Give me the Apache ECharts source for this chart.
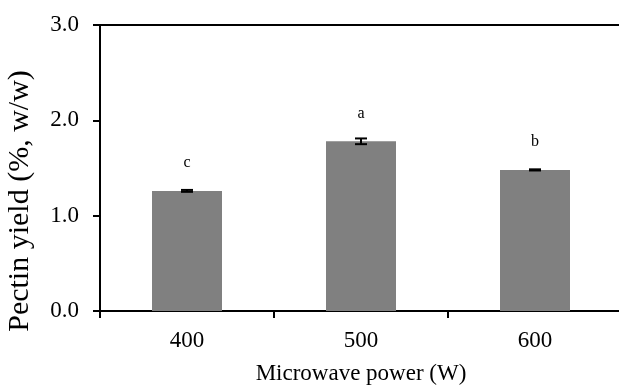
<!DOCTYPE html>
<html>
<head>
<meta charset="utf-8">
<script src="https://cdn.jsdelivr.net/npm/echarts@6/dist/echarts.min.js"></script>
<style>
  html, body { margin: 0; padding: 0; background: #fff; }
  #main { width: 619px; height: 385px; }
</style>
</head>
<body>
<div id="main"></div>
<script>
// data
const powers = ['400', '500', '600']
const yields = [1.26, 1.78, 1.48]
const errors = [0.01, 0.03, 0.006]
const letters = ['c', 'a', 'b']

const font = 'Liberation Serif, Times New Roman, serif'

const chart = echarts.init(document.getElementById('main'))

let option = {
  animation: false,
  grid: { left: 100, right: -3, top: 25, bottom: 74, outerBoundsMode: 'none', containLabel: false },
  xAxis: [
    {
      type: 'category',
      data: powers,
      name: 'Microwave power (W)',
      nameLocation: 'middle',
      nameGap: 51,
      nameTextStyle: { fontFamily: font, fontSize: 23, color: '#000' },
      axisLine: { lineStyle: { color: '#000', width: 2 } },
      axisTick: { show: true, length: 7, inside: false, lineStyle: { color: '#000', width: 2 } },
      axisLabel: { fontFamily: font, fontSize: 23, color: '#000', margin: 18 }
    },
    {
      type: 'category',
      data: powers,
      position: 'top',
      axisLine: { lineStyle: { color: '#000', width: 2 } },
      axisTick: { show: false },
      axisLabel: { show: false }
    }
  ],
  yAxis: {
    type: 'value',
    min: 0,
    max: 3,
    interval: 1,
    name: 'Pectin yield (%, w/w)',
    nameLocation: 'middle',
    nameGap: 65,
    nameTextStyle: { fontFamily: font, fontSize: 30, color: '#000', padding: [0, 66, 0, 0] },
    axisLine: { show: true, lineStyle: { color: '#000', width: 2 } },
    axisTick: { show: true, length: 7, lineStyle: { color: '#000', width: 2 } },
    axisLabel: {
      fontFamily: font, fontSize: 23, color: '#000', margin: 21,
      formatter: v => v.toFixed(1)
    },
    splitLine: { show: false }
  },
  series: [
    {
      type: 'bar',
      data: yields,
      barWidth: 70,
      itemStyle: { color: '#808080' },
      label: {
        show: true,
        position: 'top',
        distance: 20,
        fontFamily: font,
        fontSize: 16,
        color: '#000',
        formatter: p => letters[p.dataIndex]
      }
    },
    {
      type: 'custom',
      data: yields.map((v, i) => [i, v - errors[i], v + errors[i]]),
      renderItem: (params, api) => {
        let lo = api.coord([api.value(0), api.value(1)])
        let hi = api.coord([api.value(0), api.value(2)])
        let x = lo[0]
        let hw = 6
        let st = { stroke: '#000', lineWidth: 2 }
        return {
          type: 'group',
          children: [
            { type: 'line', shape: { x1: x, y1: lo[1], x2: x, y2: hi[1] }, style: st },
            { type: 'line', shape: { x1: x - hw, y1: lo[1], x2: x + hw, y2: lo[1] }, style: st },
            { type: 'line', shape: { x1: x - hw, y1: hi[1], x2: x + hw, y2: hi[1] }, style: st }
          ]
        }
      },
      z: 5
    }
  ]
}

chart.setOption(option)
</script>
</body>
</html>
